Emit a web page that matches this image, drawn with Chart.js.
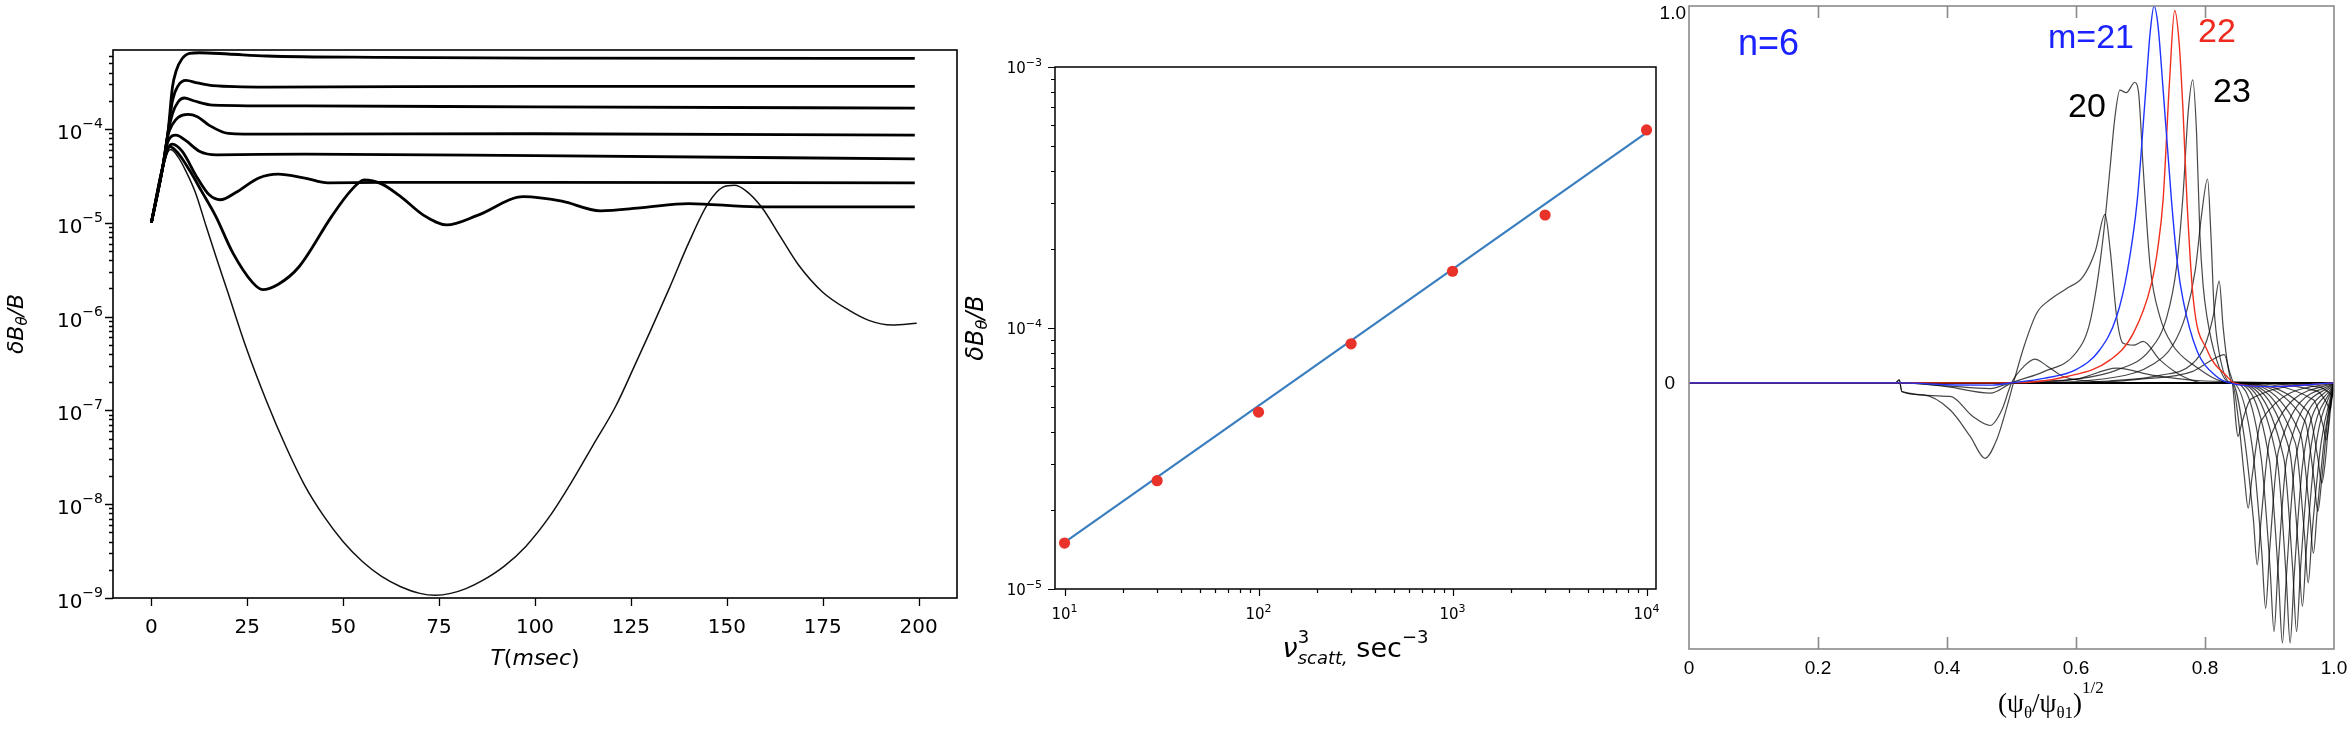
<!DOCTYPE html>
<html>
<head>
<meta charset="utf-8">
<title>Growth, saturation scaling and mode structure</title>
<script src="https://cdn.jsdelivr.net/npm/chart.js@4.4.1/dist/chart.umd.min.js"></script>
<style>
  html, body { margin: 0; padding: 0; background: #fff; }
  #wrap { position: relative; width: 2352px; height: 734px; overflow: hidden; background: #fff; }
  #wrap canvas { position: absolute; top: 0; }
</style>
</head>
<body>
<div id="wrap">
  <canvas id="growthChart" width="960" height="734" style="left:0px;width:960px;height:734px"></canvas>
  <canvas id="scalingChart" width="710" height="734" style="left:960px;width:710px;height:734px"></canvas>
  <canvas id="modeChart" width="722" height="734" style="left:1630px;width:722px;height:734px"></canvas>
</div>
<script>
// ---------- left panel: dB/B vs time, one run per scattering rate ----------
const timeTicks = [0, 25, 50, 75, 100, 125, 150, 175, 200];
const growthDecades = [-9, -8, -7, -6, -5, -4];

const run1 = [[0,1.0e-5],[3,4.0e-5],[4.3,8.9e-5],[5.5,2.8e-4],[6.5,4.2e-4],[8,5.6e-4],[10,6.4e-4],[12.5,6.5e-4],[20,6.3e-4],[30,6.0e-4],[60,5.8e-4],[100,5.7e-4],[199,5.65e-4]];
const run2 = [[0,1.0e-5],[3,4.0e-5],[4.3,8.9e-5],[5.5,2.0e-4],[7,2.9e-4],[9,3.3e-4],[12,3.1e-4],[16,2.9e-4],[30,2.8e-4],[100,2.85e-4],[199,2.85e-4]];
const run3 = [[0,1.0e-5],[3,4.0e-5],[4.3,8.9e-5],[5.5,1.45e-4],[7,1.95e-4],[8.6,2.14e-4],[11,2.0e-4],[16,1.8e-4],[40,1.76e-4],[100,1.72e-4],[199,1.67e-4]];
const run4 = [[0,1.0e-5],[3,4.0e-5],[4.3,8.5e-5],[5.5,1.12e-4],[7,1.33e-4],[9.5,1.43e-4],[12,1.35e-4],[15,1.1e-4],[20,9.0e-5],[30,8.8e-5],[100,8.9e-5],[199,8.6e-5]];
const run5 = [[0,1.0e-5],[3,4.0e-5],[4.3,7.3e-5],[6.4,8.6e-5],[9,7.5e-5],[12.5,5.8e-5],[17,5.3e-5],[40,5.4e-5],[100,5.2e-5],[199,4.8e-5]];
const run6 = [[0,1.0e-5],[3,4.0e-5],[4.3,6.2e-5],[5.5,6.9e-5],[8,5.8e-5],[12,3.0e-5],[15,2.0e-5],[18,1.76e-5],[22,2.1e-5],[28,3.0e-5],[33,3.3e-5],[40,3.0e-5],[46,2.67e-5],[60,2.7e-5],[100,2.7e-5],[199,2.67e-5]];
const run7 = [[0,1.0e-5],[3,4.0e-5],[4.8,6.5e-5],[7,5.5e-5],[10,3.6e-5],[13,2.2e-5],[16.8,1.17e-5],[21.2,4.8e-6],[26.4,2.3e-6],[29,1.94e-6],[33,2.2e-6],[38.5,3.4e-6],[47,1.17e-5],[52,2.2e-5],[55.5,2.87e-5],[60,2.6e-5],[65,1.9e-5],[71,1.2e-5],[77,9.5e-6],[85,1.2e-5],[97,1.9e-5],[107,1.7e-5],[117,1.34e-5],[128,1.45e-5],[140,1.6e-5],[158,1.48e-5],[199,1.48e-5]];
const run8 = [[0,1.0e-5],[3,3.98e-5],[5,6.03e-5],[7,5.01e-5],[9,3.55e-5],[11.5,2.09e-5],[14.3,9.12e-6],[17,4.17e-6],[20,1.78e-6],[24.7,4.68e-7],[30,1.26e-7],[35,4.17e-8],[40,1.58e-8],[45,7.41e-9],[50,3.98e-9],[55,2.45e-9],[60,1.70e-9],[65,1.32e-9],[70,1.12e-9],[74,1.07e-9],[78,1.12e-9],[82,1.26e-9],[86,1.51e-9],[92,2.19e-9],[97.6,3.55e-9],[104,7.59e-9],[109.6,1.74e-8],[115,4.17e-8],[121,1.10e-7],[126,3.02e-7],[130,6.92e-7],[135,2.0e-6],[140,6.03e-6],[145,1.58e-5],[149,2.40e-5],[152,2.51e-5],[155,2.19e-5],[159,1.48e-5],[164,7.08e-6],[168.7,3.55e-6],[175,1.82e-6],[181.8,1.17e-6],[187,9.12e-7],[193,8.13e-7],[199.5,8.51e-7]];

// ---------- middle panel: saturated amplitude vs nu_scatt^3 ----------
const nuCubed = [10, 30, 100, 300, 1000, 3000, 10000];
const satLevel = [1.5e-5, 2.6e-5, 4.76e-5, 8.7e-5, 1.65e-4, 2.71e-4, 5.74e-4];
const fitLine = [[10, 1.51e-5], [10000, 5.6e-4]];
const nuDecades = [1, 2, 3, 4];
const satDecades = [-5, -4, -3];

// ---------- right panel: n=6 harmonics vs sqrt(psi/psi1) ----------
const psiTicks = [0, 0.2, 0.4, 0.6, 0.8, 1.0];
const psiTickLabels = ['0', '0.2', '0.4', '0.6', '0.8', '1.0'];

const mode21 = [[0,0],[0.33,0],[0.4,-0.005],[0.47,-0.006],[0.5,0],[0.55,0.012],[0.6,0.035],[0.637,0.088],[0.663,0.176],[0.68,0.3],[0.695,0.485],[0.707,0.75],[0.715,0.93],[0.721,1.0],[0.727,0.95],[0.735,0.78],[0.748,0.485],[0.757,0.32],[0.766,0.22],[0.787,0.088],[0.818,0.017],[0.838,0],[0.9,-0.01],[1,0]];
const mode22 = [[0,0],[0.33,0],[0.5,0],[0.586,0.017],[0.653,0.061],[0.689,0.132],[0.717,0.264],[0.727,0.36],[0.735,0.485],[0.745,0.8],[0.753,0.988],[0.76,0.9],[0.766,0.72],[0.772,0.485],[0.782,0.22],[0.803,0.088],[0.834,0.017],[0.845,0],[0.9,-0.01],[1,0]];
const mode20 = [[0,0],[0.33,0],[0.4,-0.01],[0.467,-0.027],[0.5,0],[0.55,0.03],[0.6,0.08],[0.62,0.15],[0.632,0.256],[0.643,0.4],[0.653,0.574],[0.66,0.7],[0.668,0.777],[0.678,0.77],[0.691,0.797],[0.697,0.77],[0.704,0.574],[0.715,0.309],[0.73,0.176],[0.75,0.1],[0.78,0.05],[0.84,0],[1,0]];
const mode19 = [[0,0],[0.32,0],[0.326,0.008],[0.33,-0.023],[0.363,-0.032],[0.405,-0.072],[0.436,-0.142],[0.459,-0.2],[0.477,-0.151],[0.493,-0.063],[0.503,0],[0.52,0.1],[0.539,0.185],[0.559,0.22],[0.585,0.25],[0.611,0.282],[0.63,0.35],[0.645,0.447],[0.653,0.353],[0.663,0.176],[0.673,0.105],[0.69,0.1],[0.704,0.11],[0.73,0.061],[0.766,0.017],[0.8,0],[1,0]];
const mode18 = [[0,0],[0.32,0],[0.326,0.008],[0.33,-0.023],[0.405,-0.036],[0.44,-0.089],[0.467,-0.113],[0.485,-0.072],[0.5,0],[0.52,0.045],[0.536,0.063],[0.555,0.045],[0.58,0.017],[0.62,0.005],[0.7,0],[1,0]];
const mode17 = [[0,0],[0.33,0],[0.4,-0.008],[0.467,-0.015],[0.5,0],[0.6,0.01],[0.663,0.039],[0.72,0.02],[0.8,0.005],[1,0]];
const mode23 = [[0,0],[0.5,0],[0.6,0.01],[0.663,0.034],[0.715,0.088],[0.741,0.176],[0.756,0.309],[0.766,0.5],[0.774,0.72],[0.781,0.804],[0.787,0.66],[0.792,0.397],[0.797,0.26],[0.803,0.176],[0.818,0.061],[0.839,0],[1,0]];
const mode24 = [[0,0],[0.5,0],[0.66,0.015],[0.72,0.05],[0.75,0.1],[0.77,0.18],[0.785,0.3],[0.795,0.45],[0.804,0.541],[0.809,0.4],[0.814,0.2],[0.822,0.08],[0.84,0],[1,0]];
const mode25 = [[0,0],[0.55,0],[0.65,0.005],[0.73,0.02],[0.78,0.05],[0.8,0.1],[0.813,0.18],[0.822,0.27],[0.828,0.15],[0.835,0.05],[0.842,0],[1,0]];
const mode26 = [[0,0],[0.6,0],[0.7,0.01],[0.78,0.03],[0.81,0.06],[0.83,0.075],[0.838,0.03],[0.845,0],[1,0]];
// edge harmonics, negative lobes between 0.84 and 1
const dip01 = [[0,0],[0.842,0],[0.845,-0.043],[0.848,-0.107],[0.851,-0.142],[0.857,-0.107],[0.871,-0.043],[1,0]];
const dip02 = [[0,0],[0.842,0],[0.852,-0.1],[0.861,-0.249],[0.867,-0.332],[0.873,-0.249],[0.887,-0.1],[1,0]];
const dip03 = [[0,0],[0.842,0],[0.861,-0.145],[0.875,-0.362],[0.881,-0.483],[0.887,-0.362],[0.901,-0.145],[1,0]];
const dip04 = [[0,0],[0.842,0],[0.874,-0.179],[0.888,-0.449],[0.894,-0.598],[0.9,-0.449],[0.914,-0.179],[1,0]];
const dip05 = [[0,0],[0.842,0],[0.887,-0.198],[0.901,-0.495],[0.907,-0.66],[0.913,-0.495],[0.927,-0.198],[1,0]];
const dip06 = [[0,0],[0.842,0],[0.9,-0.207],[0.914,-0.518],[0.92,-0.69],[0.926,-0.518],[0.94,-0.207],[1,0]];
const dip07 = [[0,0],[0.842,0],[0.912,-0.207],[0.926,-0.518],[0.932,-0.69],[0.938,-0.518],[0.952,-0.207],[1,0]];
const dip08 = [[0,0],[0.842,0],[0.922,-0.198],[0.936,-0.495],[0.942,-0.66],[0.948,-0.495],[0.962,-0.198],[1,0]];
const dip09 = [[0,0],[0.842,0],[0.931,-0.178],[0.945,-0.445],[0.951,-0.593],[0.957,-0.445],[0.971,-0.178],[1,0]];
const dip10 = [[0,0],[0.842,0],[0.94,-0.159],[0.954,-0.398],[0.96,-0.531],[0.966,-0.398],[0.98,-0.159],[1,0]];
const dip11 = [[0,0],[0.842,0],[0.948,-0.136],[0.962,-0.339],[0.968,-0.452],[0.974,-0.339],[0.986,-0.136],[1,0]];
const dip12 = [[0,0],[0.842,0],[0.955,-0.102],[0.969,-0.256],[0.975,-0.341],[0.981,-0.256],[0.99,-0.102],[1,0]];
const dip13 = [[0,0],[0.842,0],[0.961,-0.08],[0.975,-0.2],[0.981,-0.266],[0.987,-0.2],[0.993,-0.08],[1,0]];
const dip14 = [[0,0],[0.842,0],[0.968,-0.045],[0.983,-0.113],[0.988,-0.151],[0.992,-0.113],[0.996,-0.045],[1,0]];
const dip15 = [[0,0],[0.842,0],[0.974,-0.022],[0.989,-0.054],[0.994,-0.072],[0.997,-0.04],[1,0]];
const dip16 = [[0,0],[0.842,0],[0.978,-0.011],[0.993,-0.027],[0.998,-0.036],[1,0]];

// ---------- helpers ----------
const SANS = '"DejaVu Sans"';
const HELV = '"Liberation Sans"';
const SERIF = '"Liberation Serif"';

function curve(points, color, width) {
    return {
        data: points.map(p => ({ x: p[0], y: p[1] })),
        borderColor: color,
        borderWidth: width,
        pointRadius: 0,
        fill: false,
        cubicInterpolationMode: 'monotone'
    };
}

// draw a run of text pieces (for super/subscripts); piece with adv:false does not move the pen
function rich(ctx, parts, x, y, align) {
    let w = 0;
    parts.forEach(p => {
        ctx.font = p.f;
        p.w = ctx.measureText(p.t).width;
        if (p.adv !== false) w += p.w;
    });
    let cx = align === 'right' ? x - w : align === 'center' ? x - w / 2 : x;
    parts.forEach(p => {
        ctx.font = p.f;
        ctx.fillStyle = p.c || '#000';
        ctx.fillText(p.t, cx, y + (p.dy || 0));
        if (p.adv !== false) cx += p.w;
    });
}

function hiddenAxes(xType, xMin, xMax, yType, yMin, yMax) {
    return {
        x: { type: xType, min: xMin, max: xMax, display: false },
        y: { type: yType, min: yMin, max: yMax, display: false }
    };
}

const baseOptions = {
    responsive: false,
    animation: false,
    devicePixelRatio: 1,
    events: [],
    plugins: { legend: { display: false }, tooltip: { enabled: false } }
};

// ---------- left chart ----------
const growthDecor = {
    id: 'growthDecor',
    afterDraw(chart) {
        const { ctx, chartArea: a, scales: { x, y } } = chart;
        ctx.save();
        ctx.strokeStyle = '#000';
        ctx.lineWidth = 1.6;
        ctx.strokeRect(a.left, a.top, a.right - a.left, a.bottom - a.top);
        ctx.lineWidth = 1.3;
        ctx.beginPath();
        timeTicks.forEach(v => {
            const px = Math.round(x.getPixelForValue(v)) + 0.5;
            ctx.moveTo(px, a.bottom);
            ctx.lineTo(px, a.bottom + 8);
        });
        growthDecades.forEach(e => {
            for (let m = 1; m < 10; m++) {
                const v = m * Math.pow(10, e);
                if (v > y.max) break;
                const py = Math.round(y.getPixelForValue(v)) + 0.5;
                const len = m === 1 ? 8 : 4;
                ctx.moveTo(a.left - len, py);
                ctx.lineTo(a.left, py);
            }
        });
        ctx.stroke();

        ctx.textBaseline = 'alphabetic';
        ctx.textAlign = 'left';
        timeTicks.forEach(v => {
            rich(ctx, [{ t: String(v), f: '20px ' + SANS }], x.getPixelForValue(v), 633, 'center');
        });
        growthDecades.forEach(e => {
            const py = y.getPixelForValue(Math.pow(10, e));
            rich(ctx, [
                { t: '10', f: '20px ' + SANS, dy: 10 },
                { t: '\u2212' + (-e), f: '14px ' + SANS, dy: -1 }
            ], a.left - 10, py, 'right');
        });
        rich(ctx, [
            { t: 'T', f: 'italic 22px ' + SANS },
            { t: '(', f: '22px ' + SANS },
            { t: 'msec', f: 'italic 22px ' + SANS },
            { t: ')', f: '22px ' + SANS }
        ], (a.left + a.right) / 2, 665, 'center');

        ctx.translate(23, (a.top + a.bottom) / 2);
        ctx.rotate(-Math.PI / 2);
        rich(ctx, [
            { t: '\u03b4B', f: 'italic 22px ' + SANS },
            { t: '\u03b8', f: 'italic 15px ' + SANS, dy: 4 },
            { t: '/B', f: 'italic 22px ' + SANS }
        ], 0, 0, 'center');
        ctx.restore();
    }
};

const thick = 2.8;
new Chart(document.getElementById('growthChart'), {
    type: 'line',
    data: {
        datasets: [
            curve(run1, '#000', thick), curve(run2, '#000', thick), curve(run3, '#000', thick),
            curve(run4, '#000', thick), curve(run5, '#000', thick), curve(run6, '#000', thick),
            curve(run7, '#000', thick), curve(run8, '#111', 1.5)
        ]
    },
    options: Object.assign({}, baseOptions, {
        layout: { padding: { left: 113, top: 50, right: 3, bottom: 136 } },
        scales: hiddenAxes('linear', -10, 210, 'logarithmic', 1e-9, 6.95e-4)
    }),
    plugins: [growthDecor]
});

// ---------- middle chart ----------
const scalingDecor = {
    id: 'scalingDecor',
    afterDraw(chart) {
        const { ctx, chartArea: a, scales: { x, y } } = chart;
        ctx.save();
        ctx.strokeStyle = '#000';
        ctx.lineWidth = 1.5;
        ctx.strokeRect(a.left, a.top, a.right - a.left, a.bottom - a.top);
        ctx.lineWidth = 1.2;
        ctx.beginPath();
        nuDecades.forEach(e => {
            for (let m = 1; m < 10; m++) {
                const v = m * Math.pow(10, e);
                if (v > x.max) break;
                const px = Math.round(x.getPixelForValue(v)) + 0.5;
                const len = m === 1 ? 7 : 4;
                ctx.moveTo(px, a.bottom);
                ctx.lineTo(px, a.bottom + len);
            }
        });
        satDecades.forEach(e => {
            for (let m = 1; m < 10; m++) {
                const v = m * Math.pow(10, e);
                if (v > y.max) break;
                const py = Math.round(y.getPixelForValue(v)) + 0.5;
                const len = m === 1 ? 7 : 4;
                ctx.moveTo(a.left - len, py);
                ctx.lineTo(a.left, py);
            }
        });
        ctx.stroke();

        ctx.textAlign = 'left';
        ctx.textBaseline = 'alphabetic';
        nuDecades.forEach(e => {
            rich(ctx, [
                { t: '10', f: '15px ' + SANS, dy: 0 },
                { t: String(e), f: '11px ' + SANS, dy: -7 }
            ], x.getPixelForValue(Math.pow(10, e)), 619, 'center');
        });
        satDecades.forEach(e => {
            const py = y.getPixelForValue(Math.pow(10, e));
            rich(ctx, [
                { t: '10', f: '15px ' + SANS, dy: 6 },
                { t: '\u2212' + (-e), f: '11px ' + SANS, dy: -1 }
            ], a.left - 13, py, 'right');
        });
        rich(ctx, [
            { t: '\u03bd', f: 'italic 27px ' + SANS },
            { t: '3', f: '18px ' + SANS, dy: -14, adv: false },
            { t: 'scatt,', f: 'italic 18px ' + SANS, dy: 7 },
            { t: ' sec', f: '27px ' + SANS },
            { t: '\u22123', f: '18px ' + SANS, dy: -14 }
        ], (a.left + a.right) / 2, 657, 'center');

        ctx.translate(23, (a.top + a.bottom) / 2);
        ctx.rotate(-Math.PI / 2);
        rich(ctx, [
            { t: '\u03b4B', f: 'italic 24px ' + SANS },
            { t: '\u03b8', f: 'italic 16px ' + SANS, dy: 4 },
            { t: '/B', f: 'italic 24px ' + SANS }
        ], 0, 0, 'center');
        ctx.restore();
    }
};

new Chart(document.getElementById('scalingChart'), {
    type: 'line',
    data: {
        datasets: [
            {
                data: nuCubed.map((v, i) => ({ x: v, y: satLevel[i] })),
                showLine: false,
                pointRadius: 5.6,
                pointBorderWidth: 0,
                pointBackgroundColor: '#e8322a',
                pointBorderColor: '#e8322a'
            },
            curve(fitLine, '#3a7ebf', 2.2)
        ]
    },
    options: Object.assign({}, baseOptions, {
        layout: { padding: { left: 95, top: 67, right: 14, bottom: 145 } },
        scales: hiddenAxes('logarithmic', 8.93, 11190, 'logarithmic', 1e-5, 1e-3)
    }),
    plugins: [scalingDecor]
});

// ---------- right chart ----------
const modeDecor = {
    id: 'modeDecor',
    afterDraw(chart) {
        const { ctx, chartArea: a, scales: { x } } = chart;
        ctx.save();
        ctx.strokeStyle = '#8a8a8a';
        ctx.lineWidth = 1.6;
        ctx.strokeRect(a.left, a.top, a.right - a.left, a.bottom - a.top);
        ctx.beginPath();
        psiTicks.slice(1, -1).forEach(v => {
            const px = Math.round(x.getPixelForValue(v)) + 0.5;
            ctx.moveTo(px, a.bottom);
            ctx.lineTo(px, a.bottom - 12);
            ctx.moveTo(px, a.top);
            ctx.lineTo(px, a.top + 12);
        });
        ctx.stroke();

        ctx.textAlign = 'left';
        ctx.textBaseline = 'alphabetic';
        psiTicks.forEach((v, i) => {
            rich(ctx, [{ t: psiTickLabels[i], f: '19px ' + HELV }], x.getPixelForValue(v), 674, 'center');
        });
        rich(ctx, [{ t: '1.0', f: '19px ' + HELV }], a.left - 3, 19, 'right');
        rich(ctx, [{ t: '0', f: '19px ' + HELV }], a.left - 14, 389, 'right');

        rich(ctx, [
            { t: '(', f: '27px ' + SERIF },
            { t: '\u03c8', f: '27px ' + SERIF },
            { t: '\u03b8', f: '17px ' + SERIF, dy: 6 },
            { t: '/', f: '27px ' + SERIF },
            { t: '\u03c8', f: '27px ' + SERIF },
            { t: '\u03b81', f: '17px ' + SERIF, dy: 6 },
            { t: ')', f: '27px ' + SERIF },
            { t: '1/2', f: '17px ' + SERIF, dy: -19 }
        ], 368, 712, 'left');

        rich(ctx, [{ t: 'n=6', f: '36px ' + HELV, c: '#1a22ff' }], 108, 55, 'left');
        rich(ctx, [{ t: 'm=21', f: '34px ' + HELV, c: '#1a22ff' }], 418, 48, 'left');
        rich(ctx, [{ t: '22', f: '34px ' + HELV, c: '#f02a1e' }], 568, 42, 'left');
        rich(ctx, [{ t: '20', f: '34px ' + HELV }], 438, 117, 'left');
        rich(ctx, [{ t: '23', f: '34px ' + HELV }], 583, 102, 'left');
        ctx.restore();
    }
};

const gray = 'rgba(0,0,0,0.72)';
const thin = 1.2;
new Chart(document.getElementById('modeChart'), {
    type: 'line',
    data: {
        datasets: [
            curve(mode21, '#1f35ff', 1.4), curve(mode22, '#f0301e', 1.4),
            curve(mode17, gray, thin), curve(mode18, gray, thin), curve(mode19, gray, thin),
            curve(mode20, gray, thin), curve(mode23, gray, thin), curve(mode24, gray, thin),
            curve(mode25, gray, thin), curve(mode26, gray, thin),
            curve(dip01, gray, thin), curve(dip02, gray, thin), curve(dip03, gray, thin),
            curve(dip04, gray, thin), curve(dip05, gray, thin), curve(dip06, gray, thin),
            curve(dip07, gray, thin), curve(dip08, gray, thin), curve(dip09, gray, thin),
            curve(dip10, gray, thin), curve(dip11, gray, thin), curve(dip12, gray, thin),
            curve(dip13, gray, thin), curve(dip14, gray, thin), curve(dip15, gray, thin),
            curve(dip16, gray, thin)
        ]
    },
    options: Object.assign({}, baseOptions, {
        layout: { padding: { left: 59, top: 6, right: 18, bottom: 85 } },
        scales: hiddenAxes('linear', 0, 1, 'linear', -0.706, 1.0)
    }),
    plugins: [modeDecor]
});
</script>
</body>
</html>
